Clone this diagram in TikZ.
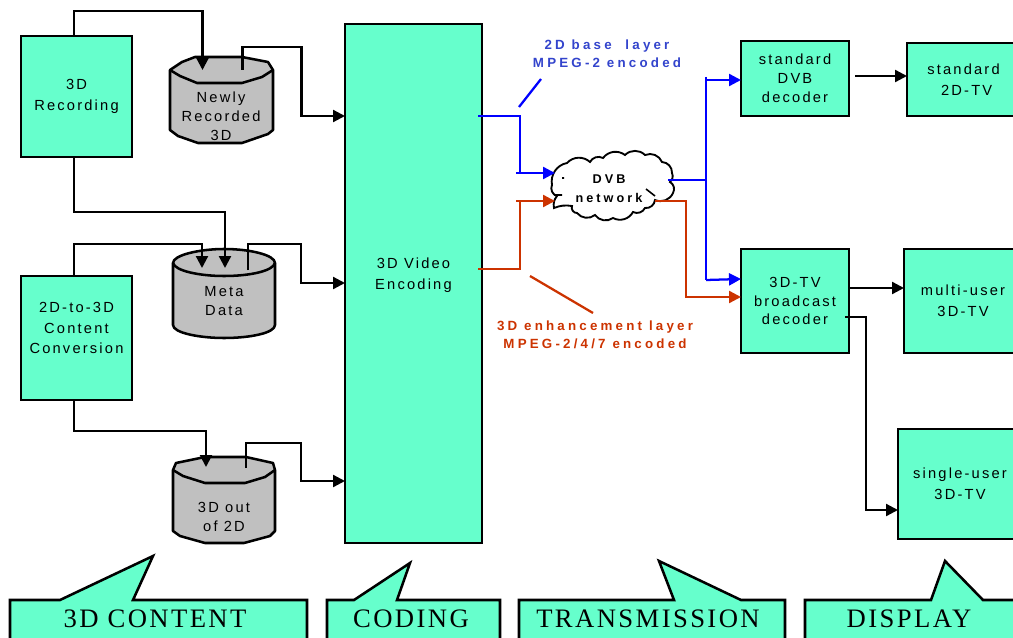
\documentclass[tikz,border=0pt]{standalone}
\usepackage{fontspec}
\setmainfont{Liberation Sans}
\newfontfamily\lblfont[LetterSpace=15]{Liberation Sans}
\newfontfamily\boldlbl[LetterSpace=24]{Liberation Sans Bold}
\newfontfamily\capfont[LetterSpace=9]{Liberation Serif}
\usetikzlibrary{arrows.meta,calc}
\definecolor{teal}{HTML}{66FFCC}
\definecolor{cylgray}{HTML}{C0C0C0}
\definecolor{baseblue}{HTML}{0000FF}
\definecolor{bluetext}{HTML}{3344CC}
\definecolor{enh}{HTML}{CC3300}
\tikzset{
  px/.style={x=0.75pt,y=-0.75pt},
  outl/.style={draw=black,line width=1.9pt,line join=miter},
  box/.style={outl,fill=teal,inner sep=0pt,outer sep=0pt,align=center,font=\lblfont\fontsize{11}{15.6}\selectfont},
  cyl/.style={outl,fill=cylgray,line join=round},
  cyltext/.style={inner sep=0pt,outer sep=0pt,align=center,font=\lblfont\fontsize{11}{15.6}\selectfont},
  wire/.style={draw=black,line width=1.7pt,line join=miter},
  tip/.style={-{Triangle[length=9pt,width=9pt]}},
  bwire/.style={draw=baseblue,line width=1.7pt},
  owire/.style={draw=enh,line width=1.7pt},
  callout/.style={outl,fill=teal},
  captext/.style={inner sep=0pt,font=\capfont\fontsize{20}{22}\selectfont},
  bluelabel/.style={inner sep=0pt,align=center,text=bluetext,font=\boldlbl\fontsize{10}{13.5}\selectfont},
  orangelabel/.style={inner sep=0pt,align=center,text=enh,font=\boldlbl\fontsize{10}{13.5}\selectfont},
  cloudtext/.style={inner sep=0pt,align=center,font=\boldlbl\fontsize{9.5}{14}\selectfont},
}
\newcommand{\boxnode}[6]{%
  \pgfmathsetmacro{\bcx}{(#2+#4)/2}\pgfmathsetmacro{\bcy}{(#3+#5)/2}%
  \pgfmathsetmacro{\bwd}{(#4-#2)*0.75}\pgfmathsetmacro{\bht}{(#5-#3)*0.75}%
  \node[box,minimum width=\bwd pt,minimum height=\bht pt] (#1) at (\bcx,\bcy) {#6};}
\begin{document}
\begin{tikzpicture}[px]
\useasboundingbox (0,0) rectangle (1013,638);
\clip (0,0) rectangle (1013,638);
% callouts
\draw[callout] (10,600) -- (60,600) -- (153,556) -- (133,600) -- (307,600) -- (307,650) -- (10,650) -- cycle;
\draw[callout] (327,600) -- (354,600) -- (410,563) -- (397,600) -- (500,600) -- (500,650) -- (327,650) -- cycle;
\draw[callout] (519,600) -- (674,600) -- (659,561) -- (741,600) -- (785,600) -- (785,650) -- (519,650) -- cycle;
\draw[callout] (805,600) -- (931,600) -- (945,561) -- (983,600) -- (1030,600) -- (1030,650) -- (805,650) -- cycle;
\node[captext] (capA) at (155,619) {3D CONTENT};
\node[captext] (capB) at (411,619) {CODING};
\node[captext] (capC) at (648,619) {TRANSMISSION};
\node[captext] (capD) at (909,619) {DISPLAY};
% boxes
\boxnode{rec}{21}{36}{132}{157}{3D\\Recording}
\boxnode{conv}{21}{276}{132}{400}{2D-to-3D\\Content\\Conversion\\[-0.6pt]}
\boxnode{enc}{345}{24}{482}{543}{3D Video\\Encoding\\[-0.6pt]}
\boxnode{dvb}{741}{41}{849}{116}{standard\\[-1.2pt]DVB\\[-1.2pt]decoder}
\boxnode{tvA}{907}{43}{1020}{116}{standard\\\ 2D-TV}
\boxnode{dec}{741}{249}{849}{353}{3D-TV\\[-1.5pt]broadcast\\[-1.5pt]decoder}
\boxnode{tvB}{904}{249}{1022}{353}{multi-user\\3D-TV}
\boxnode{tvC}{898}{429}{1022}{539}{single-user\\3D-TV}
% cylinders
\draw[cyl] (170,70) -- (182,62) -- (195,57) -- (242,57) -- (268,62) -- (273,70) -- (273,130) -- (268,134) -- (242,143) -- (198,143) -- (178,136) -- (170,130) -- cycle;
\draw[outl,line join=round] (170,70) -- (180,76) -- (197,83) -- (242,83) -- (262,77) -- (273,70);
\node[cyltext,minimum width=76.5pt,minimum height=64.5pt] (cylA) at (221.5,100) {};
\node[cyltext] (cylAt) at (221,116) {Newly\\[-1.5pt]Recorded\\[-1.5pt]3D};
\draw[cyl] (173,263) .. controls (173,255) and (200,249) .. (224,249) .. controls (250,249) and (275,255) .. (275,263) -- (275,325) .. controls (275,333) and (250,338) .. (224,338) .. controls (200,338) and (173,333) .. (173,325) -- cycle;
\draw[outl] (173,263) .. controls (175,271) and (200,276) .. (224,276) .. controls (250,276) and (273,271) .. (275,263);
\node[cyltext,minimum width=76.5pt,minimum height=66.75pt] (cylB) at (224,293.5) {};
\node[cyltext] (cylBt) at (224,301) {Meta\\[-1.5pt]Data};
\draw[cyl] (173,470) -- (176,463) -- (205,457) -- (246,457) -- (273,463) -- (275,470) -- (275,531) -- (270,536) -- (244,543) -- (205,543) -- (180,536) -- (173,531) -- cycle;
\draw[outl,line join=round] (173,470) -- (183,476) -- (205,483) -- (245,483) -- (265,477) -- (275,470);
\node[cyltext,minimum width=76.5pt,minimum height=64.5pt] (cylC) at (224,500) {};
\node[cyltext] (cylCt) at (224,517) {3D out\\[-1pt]of 2D};
% cloud
\draw[draw=black,fill=white,line width=1.4pt] (552,185)
  to[bend left=45] (567,163) to[bend left=45] (590,162) to[bend left=45] (603,158)
  to[bend left=45] (625,155) to[bend left=45] (645,155) to[bend left=45] (662,162)
  to[bend left=45] (672,173) to[bend left=35] (670,182) to[bend left=45] (673,193)
  to[bend left=45] (655,200) to[bend left=45] (645,208) to[bend left=45] (633,212)
  to[bend left=45] (613,218) to[bend left=45] (595,215) to[bend left=45] (577,213)
  to[bend left=60] (572,206) to[bend right=15] (554,208) to[bend left=25] (557,196) to[bend left=50] (552,185);
\draw[draw=black,line width=1.2pt] (554,195) -- (562,195) (646,189) -- (655,196) (562,178) -- (564,178);
\node[cloudtext] (cloud) at (609,189) {DVB\\network};
% black wires
\draw[wire,tip] ($(rec.north west)+(53,0)$) -- ++(0,-25) -| ($(cylA.north west)+(32,13)$);
\draw[wire,tip] ($(cylA.north west)+(72,13)$) |- ++(59,-23) |- ($(enc.north west)+(0,92)$);
\draw[wire,tip] ($(rec.south west)+(53,0)$) -- ++(0,55) -| ($(cylB.north west)+(52,19)$);
\draw[wire,tip] ($(conv.north west)+(53,0)$) -- ++(0,-32) -| ($(cylB.north west)+(29,19)$);
\draw[wire,tip] ($(cylB.north west)+(75,21)$) |- ++(53,-26) |- ($(enc.north west)+(0,259)$);
\draw[wire,tip] ($(conv.south west)+(53,0)$) -- ++(0,31) -| ($(cylC.north west)+(33,10)$);
\draw[wire,tip] ($(cylC.north west)+(73,11)$) |- ++(55,-25) |- ($(enc.north west)+(0,457)$);
\draw[wire,tip] ($(dvb.east)+(6,-2.5)$) -- ($(tvA.west)+(0,-3.5)$);
\draw[wire,tip] ($(dec.east)+(0,-13)$) -- ($(tvB.west)+(0,-13)$);
\draw[wire,tip] ($(dec.east)+(-4,16)$) -- ++(21,0) |- ($(tvC.west)+(0,26)$);
% coloured wires
\draw[bwire] ($(enc.north east)+(-4,92)$) -- ++(42,0) -- ++(0,57);
\draw[bwire,tip] ($(cloud.center)+(-93,-16)$) -- ($(cloud.center)+(-54,-16)$);
\draw[owire] ($(enc.north east)+(-4,245)$) -- ++(42,0) -- ++(0,-68);
\draw[owire,tip] ($(cloud.center)+(-93,12)$) -- ($(cloud.center)+(-54,12)$);
\draw[bwire] ($(cloud.center)+(59,-9)$) -- ++(38,0);
\draw[bwire] ($(dvb.north west)+(-35,36)$) -- ++(0,203);
\draw[bwire,tip] ($(dvb.north west)+(-35,39)$) -- ($(dvb.north west)+(0,39)$);
\draw[bwire,tip] ($(dec.north west)+(-35,31)$) -- ($(dec.north west)+(0,30)$);
\draw[owire,tip] ($(cloud.center)+(46,12)$) -| ($(dec.north west)+(-55,36)$) -- ++(0,12) -- ($(dec.north west)+(0,48)$);
% labels
\node[bluelabel] (lblB) at (607,54) {2D base\ \ layer\\MPEG-2 encoded};
\node[orangelabel] (lblE) at (595,335) {3D enhancement layer\\MPEG-2/4/7 encoded};
\draw[bwire] (519,107) -- (541,79);
\draw[owire] (530,276) -- (593,313);
\end{tikzpicture}
\end{document}
